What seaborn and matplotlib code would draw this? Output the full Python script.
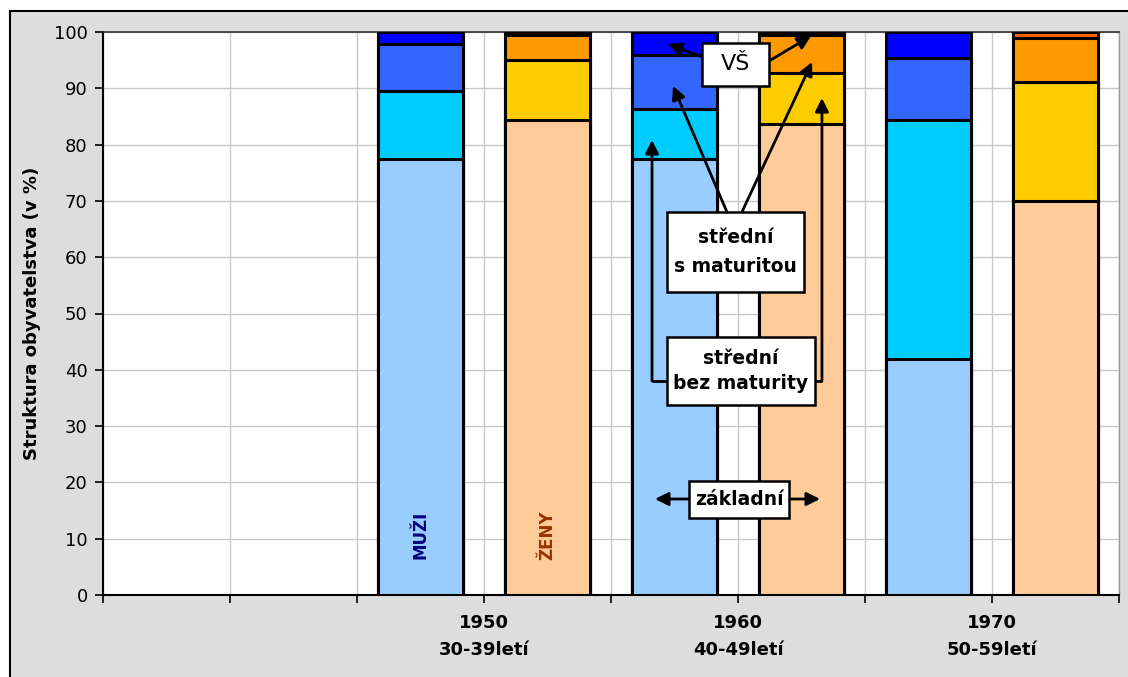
import matplotlib
matplotlib.use("Agg")
import matplotlib.pyplot as plt
import seaborn as sns
import numpy as np
import pandas as pd
from matplotlib.patches import Rectangle
from matplotlib.ticker import FixedLocator, NullFormatter, FixedFormatter

# ---------------- data ----------------
bars = ["M1950", "Z1950", "M1960", "Z1960", "M1970", "Z1970"]
slots = ["", " "] + bars  # two empty category slots at the left
zakladni = [77.4, 84.3, 77.4, 83.7, 41.9, 70.0]
bez_maturity = [12.1, 10.8, 9.0, 9.1, 42.4, 21.2]
s_maturitou = [8.4, 4.4, 9.5, 6.7, 11.0, 7.7]
vs = [2.1, 0.5, 4.1, 0.5, 4.7, 1.1]
sex = ["M", "Z", "M", "Z", "M", "Z"]
group_labels = ["1950\n30-39letí", "1960\n40-49letí", "1970\n50-59letí"]

colors_m = ["#99CCFF", "#00CCFF", "#3366FF", "#0000FF"]
colors_z = ["#FFCC99", "#FFCC00", "#FF9900", "#FF6600"]

layers = [zakladni, bez_maturity, s_maturitou, vs]
cum = np.cumsum(np.array(layers), axis=0)

sns.set_theme(style="white")
plt.rcParams["font.family"] = ["DejaVu Sans"]
plt.rcParams["text.color"] = "black"
plt.rcParams["axes.labelcolor"] = "black"
plt.rcParams["xtick.color"] = "black"
plt.rcParams["ytick.color"] = "black"

fig = plt.figure(figsize=(11.28, 6.77), dpi=100)
fig.patch.set_facecolor("white")
fig.patches.append(Rectangle((10 / 1128, -0.05), 1.2, (677 - 11) / 677 + 0.05,
                             transform=fig.transFigure, facecolor="#DDDDDD",
                             edgecolor="black", lw=1.5, zorder=-5))

ax = fig.add_axes([103 / 1128, 1 - 595 / 677, (1119 - 103) / 1128, (595 - 32) / 677])
ax.set_zorder(2)
ax.set_facecolor("white")

for k in range(3, -1, -1):
    df = pd.DataFrame({"bar": bars, "val": cum[k]})
    pal = {b: (colors_m[k] if s == "M" else colors_z[k]) for b, s in zip(bars, sex)}
    sns.barplot(data=df, x="bar", y="val", hue="bar", palette=pal, order=slots,
                width=0.67, edgecolor="black", linewidth=2.2, saturation=1,
                legend=False, ax=ax, zorder=3)

ax.set_xlim(-0.5, 7.5)
ax.set_ylim(0, 100)
ax.set_yticks(np.arange(0, 101, 10))
ax.xaxis.remove_overlapping_locs = False
ax.xaxis.set_major_locator(FixedLocator(np.arange(-0.5, 7.6, 1)))
ax.xaxis.set_major_formatter(NullFormatter())
ax.xaxis.set_minor_locator(FixedLocator([2.5, 4.5, 6.5]))
ax.xaxis.set_minor_formatter(FixedFormatter(group_labels))
ax.tick_params(axis="x", which="minor", length=0, pad=14, labelsize=13, labelcolor="black")
for t in ax.get_xticklabels(minor=True):
    t.set_fontweight("bold")
    t.set_linespacing(1.6)
ax.tick_params(axis="x", which="major", length=6, width=1.2, color="black", direction="out")
ax.tick_params(axis="y", length=6, width=1.2, color="black", direction="out", labelsize=13,
               pad=5, labelcolor="black")
ax.tick_params(bottom=True, left=True, which="major")
ax.grid(True, which="major", color="#C8C8C8", lw=1, zorder=0)
ax.set_axisbelow(True)
ax.set_xlabel("")
ax.set_ylabel("Struktura obyvatelstva (v %)", fontsize=13, fontweight="bold", labelpad=9,
              color="black")

for side in ["left", "bottom"]:
    ax.spines[side].set_color("black")
    ax.spines[side].set_linewidth(1.5)
ax.spines["top"].set_color("#333333")
ax.spines["top"].set_linewidth(1.2)
ax.spines["right"].set_color("#999999")
ax.spines["right"].set_linewidth(1)
for s in ax.spines.values():
    s.set_visible(True)

# labels inside bars
ax.text(2, 10.7, "MUŽI", rotation=90, ha="center", va="center", color="#000080",
        fontsize=12, fontweight="bold", zorder=6)
ax.text(3, 10.7, "ŽENY", rotation=90, ha="center", va="center", color="#993300",
        fontsize=12, fontweight="bold", zorder=6)

# arrows
ap = dict(arrowstyle="-|>", lw=2, color="black", mutation_scale=20, shrinkA=0, shrinkB=0)
arrows = [
    ((4.217, 95.56), (3.949, 97.87)),
    ((4.744, 94.85), (5.075, 99.29)),
    ((4.413, 68.03), (3.988, 90.41)),
    ((4.531, 68.03), (5.083, 94.67)),
    ((3.823, 38.01), (3.823, 80.82)),
    ((5.161, 38.01), (5.161, 88.28)),
    ((4.508, 17.05), (3.846, 17.05)),
    ((4.508, 17.05), (5.146, 17.05)),
]
for tail, head in arrows:
    ax.annotate("", xy=head, xytext=tail, arrowprops=ap, zorder=7)
ax.plot([3.823, 4.2], [38.01, 38.01], color="black", lw=2, zorder=7, solid_capstyle="butt")
ax.plot([4.8, 5.161], [38.01, 38.01], color="black", lw=2, zorder=7, solid_capstyle="butt")

# annotation boxes: (x0, x1, y0, y1, text, size, weight, linespacing)
boxes = [
    (4.217, 4.744, 90.41, 98.05, "VŠ", 16, "normal", 1.2),
    (3.941, 5.020, 53.82, 68.03, "střední\ns maturitou", 13.5, "bold", 1.7),
    (3.941, 5.106, 33.75, 45.83, "střední\nbez maturity", 13.5, "bold", 1.35),
    (4.114, 4.902, 13.68, 20.25, "základní", 13.5, "bold", 1.2),
]
for x0, x1, y0, y1, txt, fs, fw, ls in boxes:
    ax.add_patch(Rectangle((x0, y0), x1 - x0, y1 - y0, facecolor="white",
                           edgecolor="black", lw=1.8, zorder=8))
    ax.text((x0 + x1) / 2, (y0 + y1) / 2, txt, ha="center", va="center", fontsize=fs,
            fontweight=fw, linespacing=ls, zorder=9, color="black")

fig.savefig("out.png", dpi=100)
